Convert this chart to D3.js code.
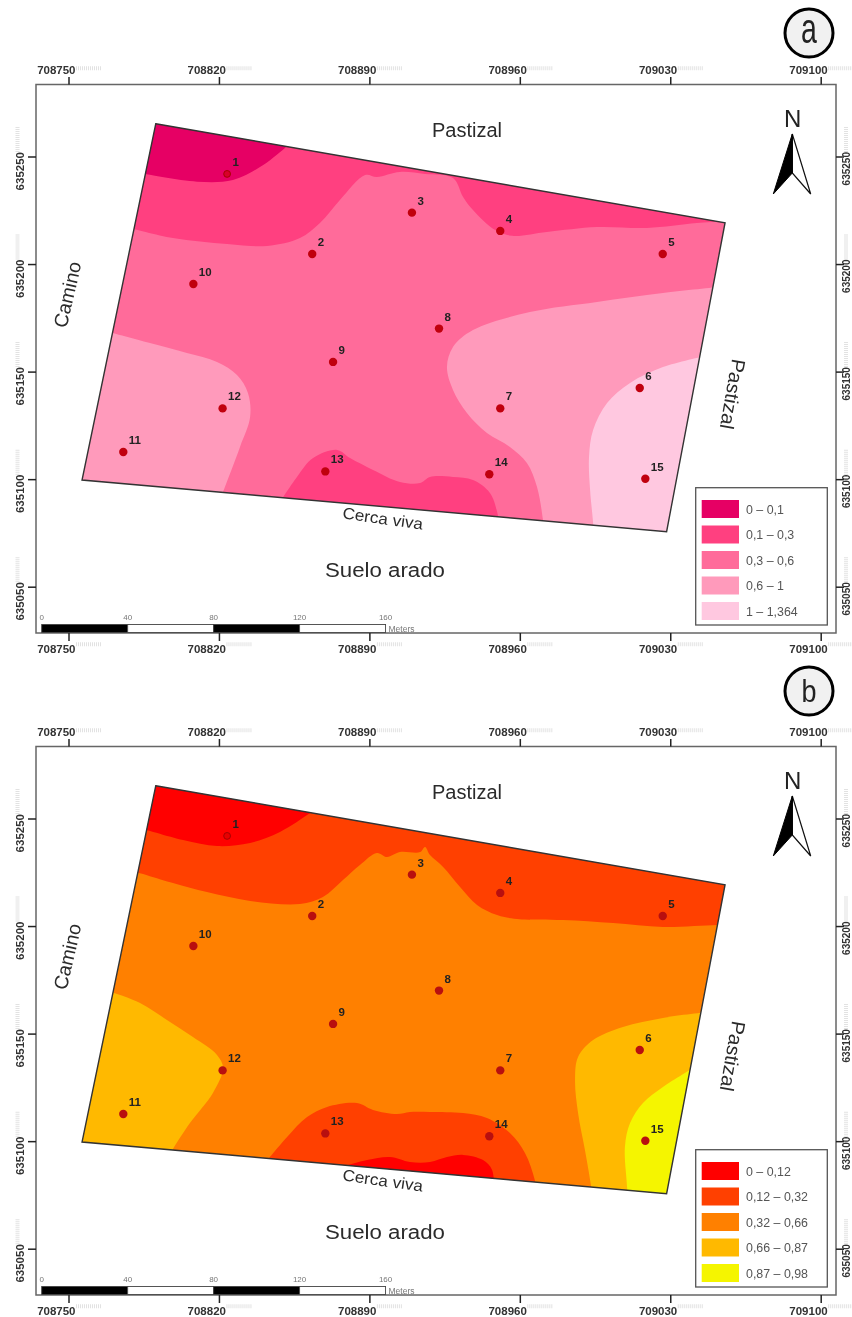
<!DOCTYPE html>
<html>
<head>
<meta charset="utf-8">
<script src="https://cdn.jsdelivr.net/npm/d3@7"></script>
<style>
  body { margin: 0; background: #fff; }
  svg { display: block; filter: blur(0.6px); font-family: "Liberation Sans", Arial, sans-serif; }
</style>
</head>
<body>
<div id="map"></div>
<script>
// ---- data (map units: easting, northing) ----
var eastTicks = [708750, 708820, 708890, 708960, 709030, 709100];
var northTicks = [635250, 635200, 635150, 635100, 635050];
var scaleBarStops = [0, 40, 80, 120, 160];

var field = [[708790.6, 635265.2], [709055.5, 635219.2], [709028.3, 635075.6], [708756.3, 635099.6]];

var wellIds = [1, 2, 3, 4, 5, 6, 7, 8, 9, 10, 11, 12, 13, 14, 15];
var wellEast = [708823.8, 708863.4, 708909.8, 708950.9, 709026.5, 709015.8, 708950.9, 708922.4, 708873.1, 708808.1, 708775.5, 708821.7, 708869.5, 708945.8, 709018.4];
var wellNorth = [635241.9, 635204.7, 635223.9, 635215.4, 635204.7, 635142.4, 635132.9, 635170, 635154.5, 635190.7, 635112.6, 635132.9, 635103.6, 635102.3, 635100.2];

var legendA = ["0 \u2013 0,1", "0,1 \u2013 0,3", "0,3 \u2013 0,6", "0,6 \u2013 1", "1 \u2013 1,364"];
var legendB = ["0 \u2013 0,12", "0,12 \u2013 0,32", "0,32 \u2013 0,66", "0,66 \u2013 0,87", "0,87 \u2013 0,98"];

// class boundaries of map a
var a1Edge = [[708783.3, 635242.3], [708809.8, 635238.3], [708826.5, 635239.1], [708839.1, 635245.1], [708850.7, 635254], [708855.4, 635258.6]];
var a1Close = [[708855, 635290], [708770, 635290], [708770, 635242]];
var a2TopEdge = [[708778.6, 635216.8], [708798.6, 635212.1], [708823.8, 635209.3], [708842.4, 635208.4], [708857.7, 635212.1], [708867, 635219.1], [708876.3, 635229.8], [708888, 635241.4], [708893.5, 635240.5], [708904.2, 635242.8], [708915.9, 635241.9], [708928.9, 635240], [708933.6, 635231.2], [708938.2, 635225.1], [708948.5, 635215.8], [708956.4, 635213.1], [708972.6, 635214.9], [708995.9, 635217.2], [709019.2, 635216.8], [709042.4, 635219.1], [709057.8, 635220]];
var a2TopClose = [[709070, 635290], [708770, 635290], [708770, 635216.8]];
var a2BottomEdge = [[708847.5, 635088], [708856.3, 635101], [708863.8, 635109.8], [708875, 635113.6], [708881, 635109.8], [708891.7, 635104.3], [708904.2, 635098.7], [708913.6, 635098.2], [708918.2, 635101], [708928.9, 635101], [708938.2, 635099.6], [708946.1, 635093.6], [708949.8, 635083.3], [708950.8, 635076.4]];
var a2BottomClose = [[708951, 635050], [708847, 635050]];
var a4LeftEdge = [[708767, 635168.9], [708787.9, 635163.3], [708805.1, 635158.7], [708819.1, 635154.5], [708828.4, 635148.4], [708833.5, 635140.1], [708834.5, 635128.9], [708829.8, 635115], [708821.9, 635094], [708819.6, 635088]];
var a4LeftClose = [[708819, 635060], [708730, 635060], [708730, 635168.9]];
var a4RightEdge = [[709052.2, 635189.3], [709026.6, 635186.5], [708995.9, 635182.4], [708964.7, 635177.7], [708938.2, 635169.3], [708928.9, 635161.4], [708926.1, 635152.1], [708928.9, 635141.5], [708935.4, 635130.8], [708944.7, 635121.5], [708955.4, 635115], [708963.3, 635107.5], [708968, 635096.4], [708970.8, 635081], [708971.7, 635074]];
var a4RightClose = [[709080, 635060], [709080, 635189.3]];
var a5Edge = [[709046.2, 635157.3], [709026.6, 635152.1], [709011.3, 635144.7], [709000.6, 635135.4], [708994.1, 635122.9], [708992.2, 635110.3], [708992.7, 635095], [708994.1, 635079.6], [708994.5, 635071.7]];
var a5Close = [[709080, 635060], [709080, 635157.3]];

// class boundaries of map b
var b1TopEdge = [[708783.3, 635245.6], [708803.3, 635240], [708819.1, 635237.2], [708834.5, 635238.6], [708848.4, 635243.7], [708862.4, 635252.5], [708867, 635255.8]];
var b1TopClose = [[708867, 635290], [708770, 635290], [708770, 635245.6]];
var b1BottomEdge = [[708874, 635087], [708888.9, 635091.2], [708899.6, 635092.6], [708908.9, 635090.3], [708918.2, 635090.3], [708926.1, 635092.6], [708933.6, 635093.6], [708942.9, 635091.2], [708947.1, 635086.6], [708948, 635076.4]];
var b1BottomClose = [[708948, 635050], [708874, 635050]];
var b2TopEdge = [[708778.6, 635226.1], [708798.6, 635220], [708814.4, 635215.8], [708834.5, 635211.7], [708857.7, 635210.3], [708868.4, 635213.5], [708877.7, 635221.4], [708885.6, 635228.4], [708893.5, 635234], [708898.2, 635232.1], [708904.2, 635234.4], [708913.6, 635234.4], [708915.9, 635236.8], [708918.2, 635233], [708924.3, 635227.5], [708932.2, 635218.2], [708940.1, 635209.8], [708949.4, 635205.1], [708958.7, 635203.3], [708980.1, 635202.8], [709003.4, 635201.4], [709026.6, 635199.6], [709051.8, 635200.5], [709060.1, 635200.5]];
var b2TopClose = [[709070, 635290], [708770, 635290], [708770, 635226.1]];
var b2BottomEdge = [[708840, 635088], [708851.7, 635101.9], [708861, 635111.2], [708870.3, 635115.9], [708884.2, 635117.7], [708891.7, 635114.5], [708902.8, 635112.6], [708908.9, 635113.6], [708918.2, 635113.6], [708933.6, 635113.1], [708944.7, 635110.8], [708955.4, 635103.8], [708962.4, 635094.5], [708967.1, 635081.5], [708968.9, 635071.7]];
var b2BottomClose = [[708969, 635050], [708840, 635050]];
var b4LeftEdge = [[708767, 635170.3], [708783.3, 635164.2], [708795.8, 635156.3], [708807.9, 635148.4], [708819.1, 635140.1], [708821.9, 635134], [708817.2, 635122.4], [708806.5, 635108.4], [708798.6, 635096.4], [708794.9, 635090.3]];
var b4LeftClose = [[708795, 635060], [708730, 635060], [708730, 635170.3]];
var b4RightEdge = [[709047.6, 635160], [709026.6, 635157.3], [709008, 635153.1], [708994.1, 635147], [708987.1, 635139.1], [708985.7, 635128.4], [708987.1, 635113.1], [708990.3, 635095.9], [708993.1, 635079.6], [708994.1, 635071.7]];
var b4RightClose = [[709080, 635060], [709080, 635160]];
var b5Edge = [[709041.5, 635134.5], [709026.6, 635125.2], [709017.3, 635117.7], [709011.3, 635108.4], [709008.9, 635097.3], [709009.9, 635078.7], [709010.3, 635069.4]];
var b5Close = [[709080, 635060], [709080, 635134.5]];

// ---- colours ----
var coloursA = ["#e60064", "#ff4080", "#ff6b9a", "#ff9abb", "#ffc8e0"];
var coloursB = ["#ff0000", "#ff4000", "#ff8000", "#ffb900", "#f5f500"];

// ---- layout ----
var svgWidth = 852;
var svgHeight = 1317;
var frame = { left: 36, right: 836, top: 84.5, bottom: 633 };

var svg = d3.select("#map")
  .append("svg")
  .attr("width", svgWidth)
  .attr("height", svgHeight);

// one scale pair for both maps, the second map is only shifted down
var xScale = d3.scaleLinear().domain([708750, 709100]).range([68.5, 820.7]);
var yScale = d3.scaleLinear().domain([635250, 635050]).range([156.5, 586.7]);

var edgeLine = d3.line()
  .x(d => xScale(d[0]))
  .y(d => yScale(d[1]))
  .curve(d3.curveCatmullRom.alpha(0.5));

function project(d) {
  return xScale(d[0]) + "," + yScale(d[1]);
}

function regionPath(edge, close) {
  return edgeLine(edge) + "L" + close.map(project).join("L") + "Z";
}

function drawFrameAxes(g) {
  g.append("rect")
    .attr("x", frame.left)
    .attr("y", frame.top)
    .attr("width", frame.right - frame.left)
    .attr("height", frame.bottom - frame.top)
    .attr("fill", "#fff")
    .attr("stroke", "#666")
    .attr("stroke-width", 1.5);

  var fmt = d3.format("d");

  var top = g.append("g")
    .attr("transform", `translate(0, ${frame.top})`)
    .call(d3.axisTop(xScale).tickValues(eastTicks).tickSize(7.5).tickFormat(fmt));
  var bottom = g.append("g")
    .attr("transform", `translate(0, ${frame.bottom})`)
    .call(d3.axisBottom(xScale).tickValues(eastTicks).tickSize(8).tickFormat(fmt));
  var left = g.append("g")
    .attr("transform", `translate(${frame.left}, 0)`)
    .call(d3.axisLeft(yScale).tickValues(northTicks).tickSize(8).tickFormat(fmt));
  var right = g.append("g")
    .attr("transform", `translate(${frame.right}, 0)`)
    .call(d3.axisRight(yScale).tickValues(northTicks).tickSize(8).tickFormat(fmt));

  [top, bottom, left, right].forEach(function(axis) {
    axis.select(".domain").remove();
    axis.selectAll("line").attr("stroke", "#222").attr("stroke-width", 1.5);
    axis.selectAll("text")
      .attr("font-family", "Liberation Sans")
      .attr("font-size", 11.5)
      .attr("font-weight", "bold")
      .attr("fill", "#333");
  });

  // horizontal labels sit left of the tick, with a pale ghost after them
  top.selectAll("text")
    .attr("text-anchor", "end").attr("x", 6.5).attr("y", -10.5).attr("dy", "0");
  bottom.selectAll("text")
    .attr("text-anchor", "end").attr("x", 6.5).attr("y", 19.7).attr("dy", "0");
  top.selectAll(".tick").append("line")
    .attr("class", "ghost")
    .attr("x1", 7).attr("x2", 33).attr("y1", -16.2).attr("y2", -16.2);
  bottom.selectAll(".tick").append("line")
    .attr("class", "ghost")
    .attr("x1", 7).attr("x2", 33).attr("y1", 11.3).attr("y2", 11.3);

  // vertical labels run upward
  left.selectAll("text")
    .attr("x", 0).attr("y", 0).attr("dy", "0.35em").attr("text-anchor", "end")
    .attr("transform", "translate(-16.5, -5) rotate(-90)");
  right.selectAll("text")
    .attr("font-size", 10)
    .attr("x", 0).attr("y", 0).attr("dy", "0.35em").attr("text-anchor", "end")
    .attr("transform", "translate(10, -5) rotate(-90)");
  left.selectAll(".tick").append("line")
    .attr("class", "ghost")
    .attr("x1", -18.5).attr("x2", -18.5).attr("y1", -5).attr("y2", -31);
  right.selectAll(".tick").append("line")
    .attr("class", "ghost")
    .attr("x1", 10).attr("x2", 10).attr("y1", -5).attr("y2", -31);

  g.selectAll(".ghost")
    .attr("stroke", "#e2e2e2")
    .attr("stroke-width", 4)
    .attr("stroke-dasharray", "1,1");
}

function drawScaleBar(g) {
  var barLeft = 41.7;
  var unit = d3.scaleLinear()
    .domain([0, 160])
    .range([barLeft, barLeft + xScale(708750 + 160) - xScale(708750)]);

  g.selectAll(".bar")
    .data(d3.pairs(scaleBarStops))
    .enter()
    .append("rect")
    .attr("x", d => unit(d[0]))
    .attr("y", 624.5)
    .attr("width", d => unit(d[1]) - unit(d[0]))
    .attr("height", 8)
    .attr("fill", (d, i) => i % 2 === 0 ? "#000" : "#fff")
    .attr("stroke", "#444")
    .attr("stroke-width", 0.9);

  g.selectAll(".barLabel")
    .data(scaleBarStops)
    .enter()
    .append("text")
    .attr("x", d => unit(d))
    .attr("y", 620)
    .attr("text-anchor", "middle")
    .attr("font-size", 8)
    .attr("fill", "#777")
    .text(d => d);

  g.append("text")
    .attr("x", 388.5)
    .attr("y", 632)
    .attr("font-size", 8.5)
    .attr("fill", "#777")
    .text("Meters");
}

function drawNorth(g) {
  g.append("text")
    .attr("x", 792.7)
    .attr("y", 127)
    .attr("text-anchor", "middle")
    .attr("font-size", 24)
    .attr("fill", "#222")
    .text("N");
  g.append("path")
    .attr("d", "M792.3,134L810.7,194L792.3,173Z")
    .attr("fill", "#fff")
    .attr("stroke", "#111")
    .attr("stroke-width", 1.2);
  g.append("path")
    .attr("d", "M792.3,134L773.3,194L792.3,173Z")
    .attr("fill", "#000")
    .attr("stroke", "#000")
    .attr("stroke-width", 1);
}

function drawPlaceNames(g) {
  var names = [
    { t: "Pastizal", x: 467, y: 137, r: 0, s: 19.5, w: 70 },
    { t: "Suelo arado", x: 385, y: 576.5, r: 0, s: 19.5, w: 120 },
    { t: "Camino", x: 74, y: 296, r: -77, s: 19.5, w: 67 },
    { t: "Pastizal", x: 726, y: 393, r: 100, s: 19.5, w: 71 },
    { t: "Cerca viva", x: 382, y: 524, r: 8, s: 16, w: 81 }
  ];
  g.selectAll(".place")
    .data(names)
    .enter()
    .append("text")
    .attr("transform", d => `translate(${d.x}, ${d.y}) rotate(${d.r})`)
    .attr("text-anchor", "middle")
    .attr("font-size", d => d.s)
    .attr("textLength", d => d.w)
    .attr("lengthAdjust", "spacingAndGlyphs")
    .attr("fill", "#2b2b2b")
    .text(d => d.t);
}

function drawLegend(g, labels, colours) {
  var rowY = d3.scaleLinear().domain([0, 4]).range([500, 602]);

  g.append("rect")
    .attr("x", 695.7)
    .attr("y", 487.7)
    .attr("width", 131.6)
    .attr("height", 137.3)
    .attr("fill", "#fff")
    .attr("stroke", "#555")
    .attr("stroke-width", 1.3);

  var rows = g.selectAll(".legendRow")
    .data(labels)
    .enter()
    .append("g")
    .attr("transform", (d, i) => `translate(0, ${rowY(i)})`);

  rows.append("rect")
    .attr("x", 701.7)
    .attr("width", 37.3)
    .attr("height", 18)
    .attr("fill", (d, i) => colours[i]);

  rows.append("text")
    .attr("x", 746)
    .attr("y", 13.5)
    .attr("font-size", 12.4)
    .attr("fill", "#555")
    .text(d => d);
}

// one complete map panel
function drawPanel(opts) {
  var g = svg.append("g").attr("transform", `translate(0, ${opts.shift})`);

  drawFrameAxes(g);

  g.append("clipPath")
    .attr("id", opts.id)
    .append("polygon")
    .attr("points", field.map(project).join(" "));

  var zones = g.append("g").attr("clip-path", `url(#${opts.id})`);

  // class 3 is the background of the field, the others are laid on it
  zones.append("polygon")
    .attr("points", field.map(project).join(" "))
    .attr("fill", opts.colours[2]);

  zones.selectAll(".zone")
    .data(opts.zones)
    .enter()
    .append("path")
    .attr("d", d => regionPath(d.edge, d.close))
    .attr("fill", d => opts.colours[d.cls]);

  g.append("polygon")
    .attr("points", field.map(project).join(" "))
    .attr("fill", "none")
    .attr("stroke", "#333")
    .attr("stroke-width", 1.4);

  var wells = wellIds.map(function(id, i) {
    return { id: id, east: wellEast[i], north: wellNorth[i] };
  });

  g.selectAll(".well")
    .data(wells)
    .enter()
    .append("circle")
    .attr("cx", d => xScale(d.east))
    .attr("cy", d => yScale(d.north))
    .attr("r", d => d.id === 1 ? 3.4 : 4.2)
    .attr("fill", d => d.id === 1 ? opts.firstFill : opts.wellFill)
    .attr("stroke", d => d.id === 1 ? "#a80000" : "none");

  g.selectAll(".wellLabel")
    .data(wells)
    .enter()
    .append("text")
    .attr("x", d => xScale(d.east) + 5.5)
    .attr("y", d => yScale(d.north) - 8)
    .attr("font-size", 11.5)
    .attr("font-weight", "bold")
    .attr("fill", "#222")
    .text(d => d.id);

  drawScaleBar(g);
  drawNorth(g);
  drawPlaceNames(g);
  drawLegend(g, opts.legend, opts.colours);

  // panel letter in its ring, the letters of the original are narrow and tall
  g.append("circle")
    .attr("cx", 809)
    .attr("cy", opts.ringY)
    .attr("r", 24)
    .attr("fill", "#f1f1f1")
    .attr("stroke", "#000")
    .attr("stroke-width", 3);
  g.append("text")
    .attr("transform", `translate(809, ${opts.ringY + opts.letterDy}) scale(${opts.letterScale})`)
    .attr("text-anchor", "middle")
    .attr("font-size", 30)
    .attr("fill", "#222")
    .text(opts.letter);
}

drawPanel({
  id: "clipA", shift: 0, letter: "a", ringY: 33, letterDy: 10, letterScale: "0.95, 1.42",
  colours: coloursA, legend: legendA, wellFill: "#c0000e", firstFill: "#d8002a",
  zones: [
    { edge: a2TopEdge, close: a2TopClose, cls: 1 },
    { edge: a1Edge, close: a1Close, cls: 0 },
    { edge: a2BottomEdge, close: a2BottomClose, cls: 1 },
    { edge: a4LeftEdge, close: a4LeftClose, cls: 3 },
    { edge: a4RightEdge, close: a4RightClose, cls: 3 },
    { edge: a5Edge, close: a5Close, cls: 4 }
  ]
});

drawPanel({
  id: "clipB", shift: 662, letter: "b", ringY: 29, letterDy: 11, letterScale: "0.9, 1.05",
  colours: coloursB, legend: legendB, wellFill: "#b80f0f", firstFill: "#e80000",
  zones: [
    { edge: b2TopEdge, close: b2TopClose, cls: 1 },
    { edge: b1TopEdge, close: b1TopClose, cls: 0 },
    { edge: b2BottomEdge, close: b2BottomClose, cls: 1 },
    { edge: b1BottomEdge, close: b1BottomClose, cls: 0 },
    { edge: b4LeftEdge, close: b4LeftClose, cls: 3 },
    { edge: b4RightEdge, close: b4RightClose, cls: 3 },
    { edge: b5Edge, close: b5Close, cls: 4 }
  ]
});
</script>
</body>
</html>
